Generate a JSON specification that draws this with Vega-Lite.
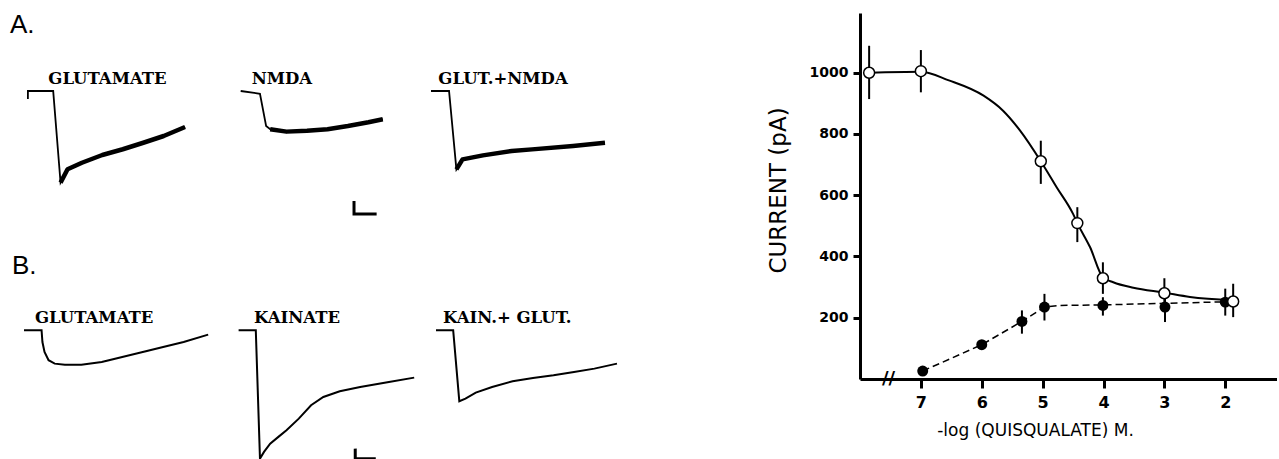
{
  "$schema": "https://vega.github.io/schema/vega-lite/v6.json",
  "padding": {"left": 8, "top": 12, "right": 0, "bottom": 0},
  "background": "white",
  "config": {"view": {"stroke": null}, "font": "DejaVu Sans"},
  "datasets": {
    "A1": [
      {"t": 0, "I": -64, "phase": "base"},
      {"t": 1, "I": 0, "phase": "base"},
      {"t": 1030, "I": 0, "phase": "base"},
      {"t": 1330, "I": -733, "phase": "resp"},
      {"t": 1615, "I": -626, "phase": "resp"},
      {"t": 2200, "I": -574, "phase": "resp"},
      {"t": 3030, "I": -512, "phase": "resp"},
      {"t": 3865, "I": -466, "phase": "resp"},
      {"t": 4700, "I": -414, "phase": "resp"},
      {"t": 5530, "I": -360, "phase": "resp"},
      {"t": 6400, "I": -288, "phase": "resp"}
    ],
    "A2": [
      {"t": 0, "I": 0, "phase": "base"},
      {"t": 785, "I": -22, "phase": "base"},
      {"t": 1035, "I": -280, "phase": "base"},
      {"t": 1200, "I": -306, "phase": "resp"},
      {"t": 1865, "I": -325, "phase": "resp"},
      {"t": 2700, "I": -318, "phase": "resp"},
      {"t": 3535, "I": -306, "phase": "resp"},
      {"t": 4365, "I": -280, "phase": "resp"},
      {"t": 5200, "I": -250, "phase": "resp"},
      {"t": 5785, "I": -226, "phase": "resp"}
    ],
    "A3": [
      {"t": 0, "I": 0, "phase": "base"},
      {"t": 735, "I": 0, "phase": "base"},
      {"t": 1035, "I": -627, "phase": "resp"},
      {"t": 1285, "I": -547, "phase": "resp"},
      {"t": 2115, "I": -515, "phase": "resp"},
      {"t": 3285, "I": -480, "phase": "resp"},
      {"t": 4115, "I": -467, "phase": "resp"},
      {"t": 5785, "I": -440, "phase": "resp"},
      {"t": 7085, "I": -414, "phase": "resp"}
    ],
    "B1": [
      {"t": 0, "I": 0}, {"t": 715, "I": 0}, {"t": 750, "I": -94}, {"t": 835, "I": -174},
      {"t": 1000, "I": -240}, {"t": 1250, "I": -267}, {"t": 1665, "I": -275}, {"t": 2335, "I": -275},
      {"t": 3165, "I": -254}, {"t": 4000, "I": -214}, {"t": 4835, "I": -174}, {"t": 5665, "I": -134},
      {"t": 6500, "I": -94}, {"t": 7500, "I": -35}
    ],
    "B2": [
      {"t": 0, "I": 0}, {"t": 700, "I": 0}, {"t": 870, "I": -1027}, {"t": 1035, "I": -973},
      {"t": 1285, "I": -907}, {"t": 1620, "I": -853}, {"t": 1950, "I": -800}, {"t": 2450, "I": -707},
      {"t": 2950, "I": -600}, {"t": 3450, "I": -534}, {"t": 4120, "I": -488}, {"t": 4950, "I": -454},
      {"t": 6120, "I": -414}, {"t": 7150, "I": -379}
    ],
    "B3": [
      {"t": 0, "I": 0}, {"t": 700, "I": 0}, {"t": 950, "I": -568}, {"t": 1200, "I": -547},
      {"t": 1620, "I": -499}, {"t": 2285, "I": -454}, {"t": 3120, "I": -408}, {"t": 3950, "I": -382},
      {"t": 4785, "I": -360}, {"t": 5620, "I": -334}, {"t": 6450, "I": -307}, {"t": 7370, "I": -267}
    ],
    "barA": [{"t": 4614, "I": -880}, {"t": 4615, "I": -984}, {"t": 5535, "I": -984}],
    "barB": [{"t": 4749, "I": -947}, {"t": 4750, "I": -1027}, {"t": 5585, "I": -1027}],
    "hdA": [{"t": -729, "I": 461, "label": "A."}],
    "hdB": [{"t": -489, "I": 448, "label": "B."}],
    "labA1": [{"t": 831, "I": 54, "label": "GLUTAMATE"}],
    "labA2": [{"t": 448, "I": 54, "label": "NMDA"}],
    "labA3": [{"t": 300, "I": 54, "label": "GLUT.+NMDA"}],
    "labB1": [{"t": 448, "I": 61, "label": "GLUTAMATE"}],
    "labB2": [{"t": 627, "I": 61, "label": "KAINATE"}],
    "labB3": [{"t": 285, "I": 61, "label": "KAIN.+ GLUT."}],
    "pts": [
      {"x": 7.85, "y": 1000, "lo": 914, "hi": 1088, "g": "open"},
      {"x": 7.0, "y": 1005, "lo": 936, "hi": 1074, "g": "open"},
      {"x": 5.03, "y": 711, "lo": 637, "hi": 778, "g": "open"},
      {"x": 4.43, "y": 509, "lo": 447, "hi": 561, "g": "open"},
      {"x": 4.01, "y": 329, "lo": 278, "hi": 381, "g": "open"},
      {"x": 3.0, "y": 280, "lo": 235, "hi": 329, "g": "open"},
      {"x": 1.87, "y": 253, "lo": 202, "hi": 311, "g": "open"},
      {"x": 6.97, "y": 26, "lo": 26, "hi": 26, "g": "filled"},
      {"x": 6.0, "y": 112, "lo": 112, "hi": 112, "g": "filled"},
      {"x": 5.34, "y": 188, "lo": 148, "hi": 224, "g": "filled"},
      {"x": 4.97, "y": 235, "lo": 191, "hi": 278, "g": "filled"},
      {"x": 4.01, "y": 240, "lo": 207, "hi": 267, "g": "filled"},
      {"x": 2.99, "y": 235, "lo": 186, "hi": 278, "g": "filled"},
      {"x": 2.0, "y": 251, "lo": 207, "hi": 295, "g": "filled"}
    ],
    "fitOpen": [
      {"x": 7.85, "y": 1000}, {"x": 7.0, "y": 1003}, {"x": 6.54, "y": 975}, {"x": 5.97, "y": 925},
      {"x": 5.65, "y": 876}, {"x": 5.37, "y": 811}, {"x": 5.03, "y": 711}, {"x": 4.77, "y": 626},
      {"x": 4.5, "y": 539}, {"x": 4.43, "y": 509}, {"x": 4.22, "y": 430}, {"x": 4.01, "y": 332},
      {"x": 3.84, "y": 316}, {"x": 3.51, "y": 298}, {"x": 3.0, "y": 282}, {"x": 2.58, "y": 268},
      {"x": 1.87, "y": 258}
    ],
    "fitFilled": [
      {"x": 6.97, "y": 26}, {"x": 6.0, "y": 112}, {"x": 5.34, "y": 188}, {"x": 4.97, "y": 235},
      {"x": 4.75, "y": 240}, {"x": 4.01, "y": 242}, {"x": 3.0, "y": 247}, {"x": 2.0, "y": 252}
    ],
    "brk": [{"x": 7.53, "y": 0}]
  },
  "hconcat": [
    {
      "spacing": 28,
      "vconcat": [
        {
          "spacing": 0,
          "hconcat": [
            {
              "width": 229, "height": 203,
              "encoding": {
                "x": {"field": "t", "type": "quantitative", "scale": {"domain": [-810, 8515], "nice": false, "zero": false}, "axis": null},
                "y": {"field": "I", "type": "quantitative", "scale": {"domain": [-1000, 624], "nice": false, "zero": false}, "axis": null}
              },
              "layer": [
                {"data": {"name": "A1"}, "mark": {"type": "line", "color": "black", "strokeWidth": 1.8}},
                {"data": {"name": "A1"}, "transform": [{"filter": "datum.phase == 'resp'"}], "mark": {"type": "line", "color": "black", "strokeWidth": 4.5, "strokeJoin": "round"}},
                {"data": {"name": "hdA"}, "mark": {"type": "text", "font": "Liberation Sans", "fontSize": 26, "color": "black", "align": "left", "baseline": "alphabetic"},
                  "encoding": {"text": {"field": "label"}}},
                {"data": {"name": "labA1"}, "mark": {"type": "text", "font": "DejaVu Serif", "fontWeight": "bold", "fontSize": 16.5, "color": "black", "align": "left", "baseline": "alphabetic"},
                  "encoding": {"text": {"field": "label"}}}
              ]
            },
            {
              "width": 188, "height": 203,
              "encoding": {
                "x": {"field": "t", "type": "quantitative", "scale": {"domain": [-69, 7586], "nice": false, "zero": false}, "axis": null},
                "y": {"field": "I", "type": "quantitative", "scale": {"domain": [-1000, 624], "nice": false, "zero": false}, "axis": null}
              },
              "layer": [
                {"data": {"name": "A2"}, "mark": {"type": "line", "color": "black", "strokeWidth": 1.8}},
                {"data": {"name": "A2"}, "transform": [{"filter": "datum.phase == 'resp'"}], "mark": {"type": "line", "color": "black", "strokeWidth": 4.5, "strokeJoin": "round"}},
                {"data": {"name": "barA"}, "mark": {"type": "line", "color": "black", "strokeWidth": 3}},
                {"data": {"name": "labA2"}, "mark": {"type": "text", "font": "DejaVu Serif", "fontWeight": "bold", "fontSize": 16.5, "color": "black", "align": "left", "baseline": "alphabetic"},
                  "encoding": {"text": {"field": "label"}}}
              ]
            },
            {
              "width": 191, "height": 203,
              "encoding": {
                "x": {"field": "t", "type": "quantitative", "scale": {"domain": [-81, 7697], "nice": false, "zero": false}, "axis": null},
                "y": {"field": "I", "type": "quantitative", "scale": {"domain": [-1000, 624], "nice": false, "zero": false}, "axis": null}
              },
              "layer": [
                {"data": {"name": "A3"}, "mark": {"type": "line", "color": "black", "strokeWidth": 1.8}},
                {"data": {"name": "A3"}, "transform": [{"filter": "datum.phase == 'resp'"}], "mark": {"type": "line", "color": "black", "strokeWidth": 4.5, "strokeJoin": "round"}},
                {"data": {"name": "labA3"}, "mark": {"type": "text", "font": "DejaVu Serif", "fontWeight": "bold", "fontSize": 16.5, "color": "black", "align": "left", "baseline": "alphabetic"},
                  "encoding": {"text": {"field": "label"}}}
              ]
            }
          ]
        },
        {
          "spacing": 0,
          "hconcat": [
            {
              "width": 226, "height": 213,
              "encoding": {
                "x": {"field": "t", "type": "quantitative", "scale": {"domain": [-652, 8551], "nice": false, "zero": false}, "axis": null},
                "y": {"field": "I", "type": "quantitative", "scale": {"domain": [-1046, 658], "nice": false, "zero": false}, "axis": null}
              },
              "layer": [
                {"data": {"name": "B1"}, "mark": {"type": "line", "color": "black", "strokeWidth": 2}},
                {"data": {"name": "hdB"}, "mark": {"type": "text", "font": "Liberation Sans", "fontSize": 26, "color": "black", "align": "left", "baseline": "alphabetic"},
                  "encoding": {"text": {"field": "label"}}},
                {"data": {"name": "labB1"}, "mark": {"type": "text", "font": "DejaVu Serif", "fontWeight": "bold", "fontSize": 16.5, "color": "black", "align": "left", "baseline": "alphabetic"},
                  "encoding": {"text": {"field": "label"}}}
              ]
            },
            {
              "width": 195, "height": 213,
              "encoding": {
                "x": {"field": "t", "type": "quantitative", "scale": {"domain": [-106, 7834], "nice": false, "zero": false}, "axis": null},
                "y": {"field": "I", "type": "quantitative", "scale": {"domain": [-1046, 658], "nice": false, "zero": false}, "axis": null}
              },
              "layer": [
                {"data": {"name": "B2"}, "mark": {"type": "line", "color": "black", "strokeWidth": 2}},
                {"data": {"name": "barB"}, "mark": {"type": "line", "color": "black", "strokeWidth": 3}},
                {"data": {"name": "labB2"}, "mark": {"type": "text", "font": "DejaVu Serif", "fontWeight": "bold", "fontSize": 16.5, "color": "black", "align": "left", "baseline": "alphabetic"},
                  "encoding": {"text": {"field": "label"}}}
              ]
            },
            {
              "width": 187, "height": 213,
              "encoding": {
                "x": {"field": "t", "type": "quantitative", "scale": {"domain": [-81, 7534], "nice": false, "zero": false}, "axis": null},
                "y": {"field": "I", "type": "quantitative", "scale": {"domain": [-1046, 658], "nice": false, "zero": false}, "axis": null}
              },
              "layer": [
                {"data": {"name": "B3"}, "mark": {"type": "line", "color": "black", "strokeWidth": 2}},
                {"data": {"name": "labB3"}, "mark": {"type": "text", "font": "DejaVu Serif", "fontWeight": "bold", "fontSize": 16.5, "color": "black", "align": "left", "baseline": "alphabetic"},
                  "encoding": {"text": {"field": "label"}}}
              ]
            }
          ]
        }
      ]
    },
    {
      "width": 417, "height": 366,
      "encoding": {
        "x": {"field": "x", "type": "quantitative", "title": "-log (QUISQUALATE) M.",
          "scale": {"domain": [1.15, 8], "reverse": true, "nice": false, "zero": false},
          "axis": {"values": [7, 6, 5, 4, 3, 2], "format": "d", "grid": false, "domainWidth": 3, "domainColor": "black", "tickColor": "black", "tickWidth": 3, "tickSize": 9,
            "labelFont": "DejaVu Sans", "labelFontWeight": "bold", "labelFontSize": 16, "labelColor": "black", "labelPadding": 6,
            "titleFont": "DejaVu Sans", "titleFontWeight": "normal", "titleFontSize": 17, "titleColor": "black", "titlePadding": 12, "titleX": 175}}
      },
      "layer": [
        {
          "data": {"name": "fitOpen"},
          "mark": {"type": "line", "color": "black", "strokeWidth": 2, "interpolate": "monotone"},
          "encoding": {
            "y": {"field": "y", "type": "quantitative", "title": "CURRENT (pA)",
              "scale": {"domain": [0, 1195], "nice": false, "zero": false},
              "axis": {"values": [200, 400, 600, 800, 1000], "format": "d", "grid": false, "domainWidth": 3, "domainColor": "black", "tickColor": "black", "tickWidth": 3, "tickSize": 7,
                "labelFont": "DejaVu Sans", "labelFontWeight": "bold", "labelFontSize": 14, "labelColor": "black", "labelPadding": 5,
                "titleFont": "DejaVu Sans", "titleFontWeight": "normal", "titleFontSize": 23, "titleColor": "black", "titlePadding": 19, "titleY": 177}}
          }
        },
        {
          "data": {"name": "fitFilled"},
          "mark": {"type": "line", "color": "black", "strokeWidth": 1.5, "strokeDash": [7, 4]},
          "encoding": {"y": {"field": "y", "type": "quantitative", "title": "CURRENT (pA)"}}
        },
        {
          "data": {"name": "pts"},
          "transform": [{"filter": "datum.hi > datum.lo"}],
          "mark": {"type": "rule", "color": "black", "strokeWidth": 2},
          "encoding": {"y": {"field": "lo", "type": "quantitative", "title": "CURRENT (pA)"}, "y2": {"field": "hi"}}
        },
        {
          "data": {"name": "pts"},
          "transform": [{"filter": "datum.g == 'filled'"}],
          "mark": {"type": "point", "shape": "circle", "filled": true, "color": "black", "size": 120, "opacity": 1},
          "encoding": {"y": {"field": "y", "type": "quantitative", "title": "CURRENT (pA)"}}
        },
        {
          "data": {"name": "pts"},
          "transform": [{"filter": "datum.g == 'open'"}],
          "mark": {"type": "point", "shape": "circle", "filled": true, "fill": "white", "stroke": "black", "strokeWidth": 1.5, "size": 120, "opacity": 1},
          "encoding": {"y": {"field": "y", "type": "quantitative", "title": "CURRENT (pA)"}}
        },
        {
          "data": {"name": "brk"},
          "mark": {"type": "text", "text": "//", "font": "DejaVu Sans", "fontSize": 18, "fontWeight": "bold", "color": "black", "baseline": "middle", "align": "center"},
          "encoding": {"y": {"field": "y", "type": "quantitative", "title": "CURRENT (pA)"}}
        }
      ]
    }
  ],
  "spacing": 146
}
